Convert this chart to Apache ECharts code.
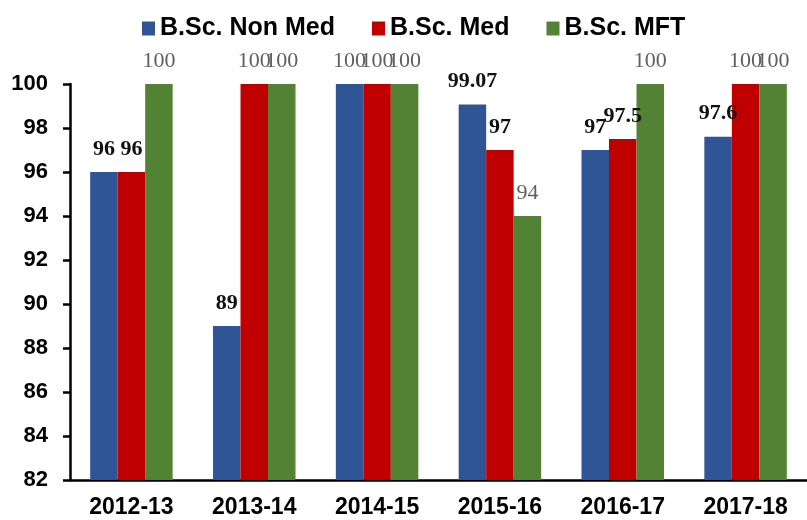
<!DOCTYPE html>
<html>
<head>
<meta charset="utf-8">
<script src="https://cdn.jsdelivr.net/npm/echarts@6/dist/echarts.min.js"></script>
<style>
html,body{margin:0;padding:0;background:#fff;}
#main{width:807px;height:520px;}
</style>
</head>
<body>
<div id="main"></div>
<script>
// data
var years = ['2012-13', '2013-14', '2014-15', '2015-16', '2016-17', '2017-18'];
var nonMed = [96, 89, 100, 99.07, 97, 97.6];
var med = [96, 100, 100, 97, 97.5, 100];
var mft = [100, 100, 100, 94, 100, 100];
var yTicks = [82, 84, 86, 88, 90, 92, 94, 96, 98, 100];

var myChart = echarts.init(document.getElementById('main'));

// labels: bold black, except 100s and MFT which are plain grey
function items(vals, allGrey) {
	var out = [];
	for (var i = 0; i < vals.length; i++) {
		var grey = allGrey || vals[i] == 100;
		out.push({
			value: vals[i],
			label: grey ? {color: '#5f5f5f', fontWeight: 'normal'} : {}
		});
	}
	return out;
}

var lbl = {
	show: true,
	position: 'top',
	distance: 12,
	fontFamily: '"Liberation Serif","Times New Roman",serif',
	fontSize: 22,
	fontWeight: 'bold',
	color: '#111'
};

function bar(name, color, vals, grey) {
	return {
		name: name,
		type: 'bar',
		barWidth: 27.5,
		barGap: '0%',
		itemStyle: {color: color},
		label: lbl,
		data: items(vals, grey)
	};
}

var axisFont = {
	fontFamily: '"Liberation Sans",Arial,sans-serif',
	fontWeight: 'bold',
	color: '#000'
};

var option = {
	animation: false,
	legend: {
		left: 137,
		top: 11,
		itemWidth: 13,
		itemHeight: 14,
		itemGap: 37,
		icon: 'rect',
		textStyle: {
			fontFamily: '"Liberation Sans",Arial,sans-serif',
			fontWeight: 'bold',
			fontSize: 25,
			color: '#000'
		}
	},
	grid: {left: 70, right: -13, top: 84, bottom: 40},
	xAxis: {
		type: 'category',
		data: years,
		axisLine: {lineStyle: {color: '#000', width: 2.5}},
		axisTick: {length: 7, lineStyle: {color: '#000', width: 2.5}},
		axisLabel: Object.assign({fontSize: 23, margin: 16}, axisFont)
	},
	yAxis: {
		type: 'value',
		min: yTicks[0],
		max: yTicks[yTicks.length - 1],
		interval: 2,
		splitLine: {show: false},
		axisLine: {show: true, lineStyle: {color: '#000', width: 2.5}},
		axisTick: {show: true, length: 7, lineStyle: {color: '#000', width: 2.5}},
		axisLabel: Object.assign({fontSize: 22, margin: 22}, axisFont)
	},
	series: [
		bar('B.Sc. Non Med', '#2f5597', nonMed, false),
		bar('B.Sc. Med', '#c00000', med, false),
		bar('B.Sc. MFT', '#548235', mft, true)
	]
};
myChart.setOption(option);
</script>
</body>
</html>
